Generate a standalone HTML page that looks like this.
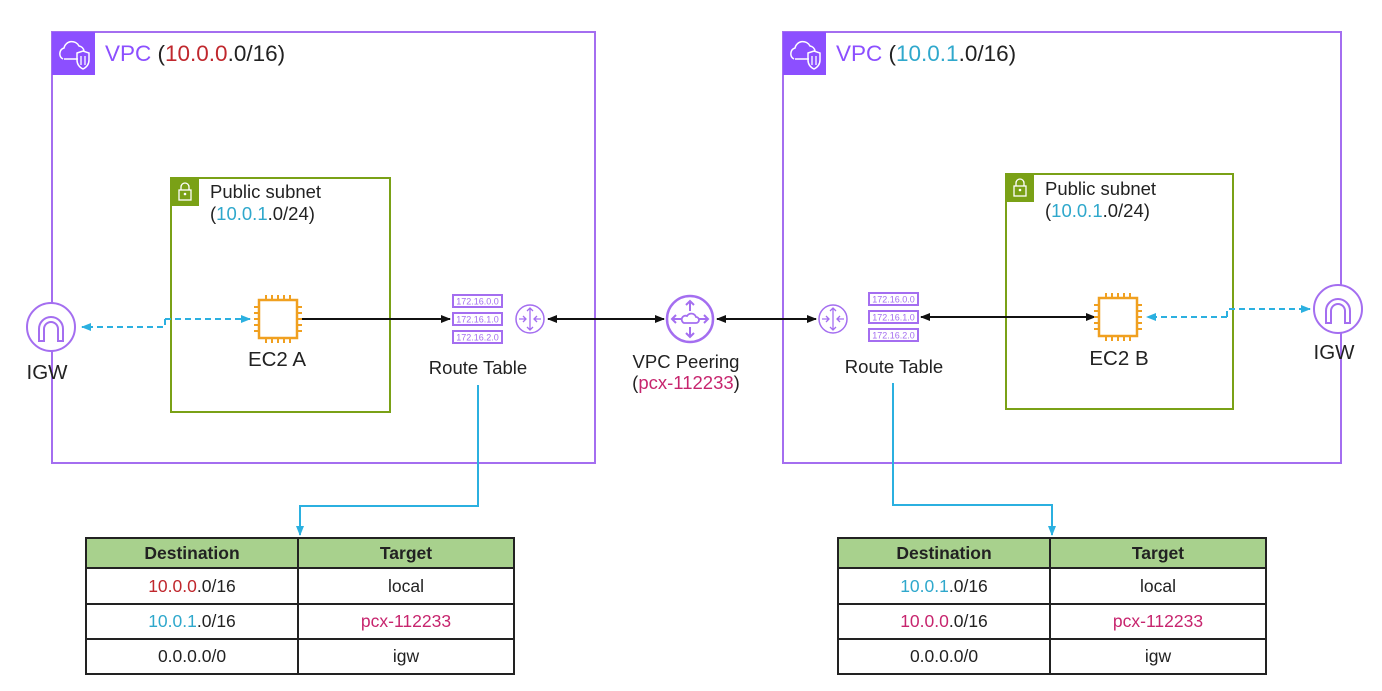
<!DOCTYPE html>
<html><head><meta charset="utf-8"><style>
html,body{margin:0;padding:0;background:#fff;}
svg{display:block;font-family:"Liberation Sans",sans-serif;}
</style></head><body>
<svg width="1382" height="691" viewBox="0 0 1382 691" xmlns="http://www.w3.org/2000/svg">
<defs>
<marker id="ab" markerWidth="10" markerHeight="10" refX="9" refY="5" orient="auto-start-reverse" markerUnits="userSpaceOnUse"><path d="M0,1 L10,5 L0,9 Z" fill="#111"/></marker>
<marker id="ac" markerWidth="10" markerHeight="10" refX="9" refY="5" orient="auto-start-reverse" markerUnits="userSpaceOnUse"><path d="M0,1 L10,5 L0,9 Z" fill="#2bb0e0"/></marker>
<g id="vpcicon">
<rect x="0" y="0" width="43" height="43" fill="#8c4fff"/>
<path d="M12,27 h14 M11,27 a6,6 0 0 1 1,-11 a8,8 0 0 1 15,-2 a6,6 0 0 1 5,5" fill="none" stroke="#fff" stroke-width="1.5"/>
<path d="M25,21 l6,-2 l6,2 v7 q0,6 -6,9 q-6,-3 -6,-9 z" fill="none" stroke="#fff" stroke-width="1.5"/>
<path d="M29,24 v9 M33,24 v9" stroke="#fff" stroke-width="1.3"/>
</g>
<g id="lock">
<rect x="0" y="0" width="28" height="28" fill="#7aa116"/>
<rect x="8" y="12" width="12" height="10" fill="none" stroke="#fff" stroke-width="1.3"/>
<path d="M10,12 v-3 a4,4 0 0 1 8,0 v3" fill="none" stroke="#fff" stroke-width="1.3"/>
<circle cx="14" cy="16" r="1.3" fill="#fff"/>
</g>
<g id="chip">
<rect x="-19" y="-19" width="38" height="38" fill="#fff" stroke="#f0a020" stroke-width="2.5"/>
<path d="M-12,-19 v-5 M-6,-19 v-5 M0,-19 v-5 M6,-19 v-5 M12,-19 v-5 M-12,19 v5 M-6,19 v5 M0,19 v5 M6,19 v5 M12,19 v5 M-19,-12 h-5 M-19,-6 h-5 M-19,0 h-5 M-19,6 h-5 M-19,12 h-5 M19,-12 h5 M19,-6 h5 M19,0 h5 M19,6 h5 M19,12 h5" stroke="#f0a020" stroke-width="2"/>
</g>
<g id="igw">
<circle cx="0" cy="0" r="24" fill="#fff" stroke="#a46ef0" stroke-width="2"/>
<path d="M-12,14 v-12 a12,12 0 0 1 24,0 v12 h-5 v-12 a7,7 0 0 0 -14,0 v12 z" fill="none" stroke="#a46ef0" stroke-width="2"/>
</g>
<g id="rt" font-size="9" fill="#a46ef0">
<rect x="0" y="0" width="49" height="12" fill="#fff" stroke="#a46ef0" stroke-width="2"/>
<rect x="0" y="18" width="49" height="12" fill="#fff" stroke="#a46ef0" stroke-width="2"/>
<rect x="0" y="36" width="49" height="12" fill="#fff" stroke="#a46ef0" stroke-width="2"/>
<text x="24.5" y="9.5" text-anchor="middle">172.16.0.0</text>
<text x="24.5" y="27.5" text-anchor="middle">172.16.1.0</text>
<text x="24.5" y="45.5" text-anchor="middle">172.16.2.0</text>
</g>
<g id="router">
<circle cx="0" cy="0" r="14" fill="#fff" stroke="#a46ef0" stroke-width="1.5"/>
<path d="M0,-11 v22 M-11,0 h7 M11,0 h-7 M-3,-8 l3,-3 l3,3 M-3,8 l3,3 l3,-3 M-7,-3 l3,3 l-3,3 M7,-3 l-3,3 l3,3" fill="none" stroke="#a46ef0" stroke-width="1.3"/>
</g>
</defs>

<rect x="52" y="32" width="543" height="431" fill="none" stroke="#a46ef0" stroke-width="2"/>
<use href="#vpcicon" x="52" y="32"/>
<text x="105" y="61" font-size="22.5" fill="#222"><tspan fill="#8c4fff">VPC</tspan> (<tspan fill="#c0272d">10.0.0</tspan>.0/16)</text>
<rect x="783" y="32" width="558" height="431" fill="none" stroke="#a46ef0" stroke-width="2"/>
<use href="#vpcicon" x="783" y="32"/>
<text x="836" y="61" font-size="22.5" fill="#222"><tspan fill="#8c4fff">VPC</tspan> (<tspan fill="#2fa8cc">10.0.1</tspan>.0/16)</text>

<rect x="171" y="178" width="219" height="234" fill="none" stroke="#7aa116" stroke-width="2"/>
<use href="#lock" x="171" y="178"/>
<text x="210" y="198" font-size="18.5" fill="#222">Public subnet</text>
<text x="210" y="220" font-size="18.5" fill="#222">(<tspan fill="#2fa8cc">10.0.1</tspan>.0/24)</text>
<rect x="1006" y="174" width="227" height="235" fill="none" stroke="#7aa116" stroke-width="2"/>
<use href="#lock" x="1006" y="174"/>
<text x="1045" y="195" font-size="18.5" fill="#222">Public subnet</text>
<text x="1045" y="217" font-size="18.5" fill="#222">(<tspan fill="#2fa8cc">10.0.1</tspan>.0/24)</text>

<path d="M165,319 H250" stroke="#2bb0e0" stroke-width="2" stroke-dasharray="6,4" marker-end="url(#ac)" fill="none"/>
<path d="M165,319 V327 H82" stroke="#2bb0e0" stroke-width="2" stroke-dasharray="6,4" marker-end="url(#ac)" fill="none"/>
<path d="M1227,317 H1147" stroke="#2bb0e0" stroke-width="2" stroke-dasharray="6,4" marker-end="url(#ac)" fill="none"/>
<path d="M1227,317 V309 H1310" stroke="#2bb0e0" stroke-width="2" stroke-dasharray="6,4" marker-end="url(#ac)" fill="none"/>

<path d="M302,319 H450" stroke="#111" stroke-width="2" marker-end="url(#ab)"/>
<path d="M548,319 H664" stroke="#111" stroke-width="2" marker-start="url(#ab)" marker-end="url(#ab)"/>
<path d="M717,319 H816" stroke="#111" stroke-width="2" marker-start="url(#ab)" marker-end="url(#ab)"/>
<path d="M921,317 H1095" stroke="#111" stroke-width="2" marker-start="url(#ab)" marker-end="url(#ab)"/>

<use href="#chip" x="278" y="319"/>
<text x="277" y="366" font-size="20.5" text-anchor="middle" fill="#222">EC2 A</text>
<use href="#chip" x="1118" y="317"/>
<text x="1119" y="365" font-size="20.5" text-anchor="middle" fill="#222">EC2 B</text>
<use href="#igw" x="51" y="327"/>
<text x="47" y="379" font-size="20.5" text-anchor="middle" fill="#222">IGW</text>
<use href="#igw" x="1338" y="309"/>
<text x="1334" y="359" font-size="20.5" text-anchor="middle" fill="#222">IGW</text>

<use href="#rt" x="453" y="295"/>
<use href="#router" x="530" y="319"/>
<text x="478" y="374" font-size="18.5" text-anchor="middle" fill="#222">Route Table</text>
<use href="#rt" x="869" y="293"/>
<use href="#router" x="833" y="319"/>
<text x="894" y="373" font-size="18.5" text-anchor="middle" fill="#222">Route Table</text>

<circle cx="690" cy="319" r="23" fill="#fff" stroke="#a46ef0" stroke-width="2.5"/>
<path d="M690,301 v10 M690,327 v10 M672,319 h10 M698,319 h10 M686,305 l4,-4 l4,4 M686,333 l4,4 l4,-4 M676,315 l-4,4 l4,4 M704,315 l4,4 l-4,4" fill="none" stroke="#a46ef0" stroke-width="2"/>
<path d="M684,323 h12 a3,3 0 0 0 0,-6 a5,5 0 0 0 -9,-1 a3,3 0 0 0 -3,7 z" fill="none" stroke="#a46ef0" stroke-width="1.8"/>
<text x="686" y="368" font-size="18.5" text-anchor="middle" fill="#222">VPC Peering</text>
<text x="686" y="389" font-size="18.5" text-anchor="middle" fill="#222">(<tspan fill="#c7256e">pcx-112233</tspan>)</text>

<path d="M478,385 V506 H300 V535" stroke="#2bb0e0" stroke-width="2" fill="none" marker-end="url(#ac)"/>
<path d="M893,383 V505 H1052 V535" stroke="#2bb0e0" stroke-width="2" fill="none" marker-end="url(#ac)"/>

<g font-size="17.5" fill="#222" text-anchor="middle">
<rect x="86" y="538" width="428" height="30" fill="#a8d18d"/>
<rect x="86" y="538" width="428" height="136" fill="none" stroke="#222" stroke-width="2"/>
<path d="M86,568 H514 M86,604 H514 M86,639 H514 M298,538 V674" stroke="#222" stroke-width="2"/>
<text x="192" y="559" font-weight="bold">Destination</text>
<text x="406" y="559" font-weight="bold">Target</text>
<text x="192" y="592"><tspan fill="#c0272d">10.0.0</tspan>.0/16</text>
<text x="406" y="592">local</text>
<text x="192" y="627"><tspan fill="#2fa8cc">10.0.1</tspan>.0/16</text>
<text x="406" y="627" fill="#c7256e">pcx-112233</text>
<text x="192" y="662">0.0.0.0/0</text>
<text x="406" y="662">igw</text>

<rect x="838" y="538" width="428" height="30" fill="#a8d18d"/>
<rect x="838" y="538" width="428" height="136" fill="none" stroke="#222" stroke-width="2"/>
<path d="M838,568 H1266 M838,604 H1266 M838,639 H1266 M1050,538 V674" stroke="#222" stroke-width="2"/>
<text x="944" y="559" font-weight="bold">Destination</text>
<text x="1158" y="559" font-weight="bold">Target</text>
<text x="944" y="592"><tspan fill="#2fa8cc">10.0.1</tspan>.0/16</text>
<text x="1158" y="592">local</text>
<text x="944" y="627"><tspan fill="#c7256e">10.0.0</tspan>.0/16</text>
<text x="1158" y="627" fill="#c7256e">pcx-112233</text>
<text x="944" y="662">0.0.0.0/0</text>
<text x="1158" y="662">igw</text>
</g>
</svg>
</body></html>
